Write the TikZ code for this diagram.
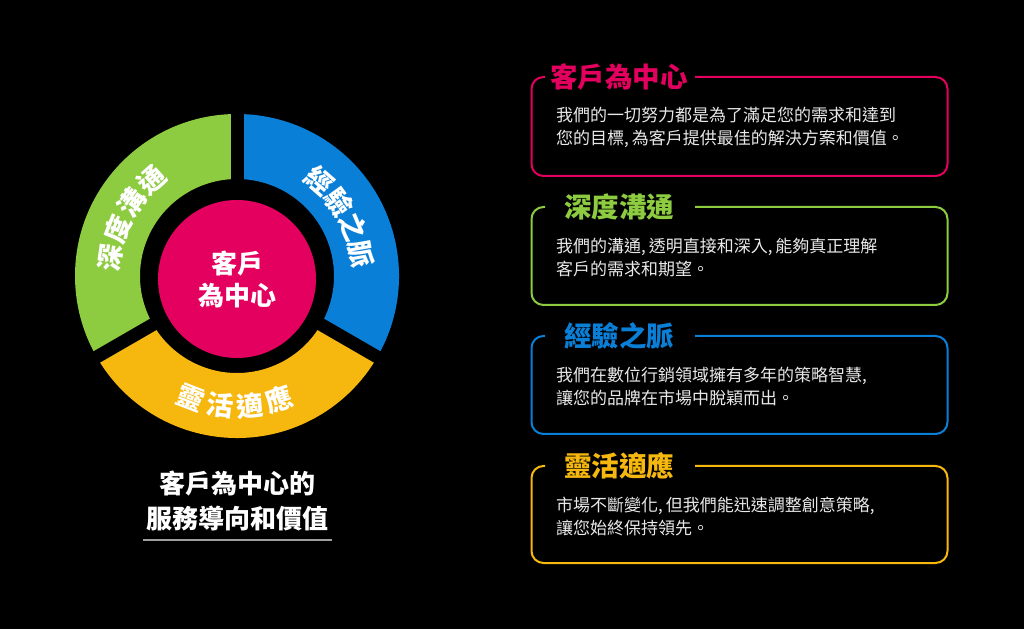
\documentclass[tikz,border=0pt]{standalone}
\usepackage{fontspec}
\setmainfont{Noto Sans CJK TC}
\definecolor{rose}{HTML}{E3005F}
\definecolor{leaf}{HTML}{8DCB41}
\definecolor{sky}{HTML}{0A7FD8}
\definecolor{amber}{HTML}{F6B80F}
\definecolor{softwhite}{HTML}{E8E8E8}

\begin{document}
\begin{tikzpicture}[x=1pt,y=1pt,
	ringtext/.style={text=white, inner sep=0pt, font=\fontsize{27}{27}\selectfont\bfseries},
	boxtitle/.style={inner sep=0pt, font=\fontsize{27.5}{28}\selectfont\bfseries},
	boxtext/.style={text=softwhite, inner sep=0pt, anchor=west, align=left, font=\fontsize{17}{22.5}\selectfont},
	boxline/.style={line width=2pt, rounded corners=12pt}]
	\fill[black] (0,0) rectangle (1024,629);
	\useasboundingbox (0,0) rectangle (1024,629);

	% Ring
	\begin{scope}[shift={(237,353)}]
		\fill[leaf] (90:162pt) arc[start angle=90, end angle=210, radius=162pt] -- (210:97pt) arc[start angle=210, end angle=90, radius=97pt] -- cycle;
		\fill[sky] (-30:162pt) arc[start angle=-30, end angle=90, radius=162pt] -- (90:97pt) arc[start angle=90, end angle=-30, radius=97pt] -- cycle;
		\fill[amber] (210:162pt) arc[start angle=210, end angle=330, radius=162pt] -- (330:97pt) arc[start angle=330, end angle=210, radius=97pt] -- cycle;
		\foreach \a in {90,210,330}
			\draw[line width=13pt, black] (0,0) -- (\a:170pt);

		\foreach \ch/\a [count=\i] in {深/172,度/158.5,溝/145,通/131.5}
			\node[ringtext, rotate=\a-90] (green\i) at (\a:128pt) {\ch};
		\foreach \ch/\a [count=\i] in {經/49,驗/36,之/23,脈/10}
			\node[ringtext, rotate=\a-90] (blue\i) at (\a:126pt) {\ch};
		\foreach \ch/\a [count=\i] in {靈/249,活/262.5,適/275.5,應/289}
			\node[ringtext, rotate=\a+90] (yellow\i) at (\a:130pt) {\ch};
	\end{scope}

	% Core
	\node[circle, fill=rose, minimum size=158pt, inner sep=0pt, text=white, align=center, font=\fontsize{26}{32}\selectfont\bfseries] (core) at (237,350) {客戶\\為中心};

	% Caption
	\node[text=white, align=center, font=\fontsize{26}{35}\selectfont\bfseries] (caption) at (237,128.5) {客戶為中心的\\服務導向和價值};
	\draw[gray!75, line width=1.5pt] (143,89) -- (332,89);

	% 客戶為中心
	\draw[boxline, rose] (545,552) -- (531.5,552) -- (531.5,453) -- (947.5,453) -- (947.5,552) -- (695,552);
	\node[boxtitle, text=rose] (title1) at (619,552) {客戶為中心};
	\node[boxtext] (text1) at (556,501.5) {我們的一切努力都是為了滿足您的需求和達到\\您的目標,\,為客戶提供最佳的解決方案和價值。};

	% 深度溝通
	\draw[boxline, leaf] (545,422) -- (531.5,422) -- (531.5,324) -- (947.5,324) -- (947.5,422) -- (695,422);
	\node[boxtitle, text=leaf] (title2) at (619,422) {深度溝通};
	\node[boxtext] (text2) at (556,371.5) {我們的溝通,\,透明直接和深入,\,能夠真正理解\\客戶的需求和期望。};

	% 經驗之脈
	\draw[boxline, sky] (545,293) -- (531.5,293) -- (531.5,195) -- (947.5,195) -- (947.5,293) -- (695,293);
	\node[boxtitle, text=sky] (title3) at (619,293) {經驗之脈};
	\node[boxtext] (text3) at (556,242.5) {我們在數位行銷領域擁有多年的策略智慧,\\讓您的品牌在市場中脫穎而出。};

	% 靈活適應
	\draw[boxline, amber] (545,163) -- (531.5,163) -- (531.5,66) -- (947.5,66) -- (947.5,163) -- (695,163);
	\node[boxtitle, text=amber] (title4) at (619,163) {靈活適應};
	\node[boxtext] (text4) at (556,112.5) {市場不斷變化,\,但我們能迅速調整創意策略,\\讓您始終保持領先。};
\end{tikzpicture}
\end{document}
